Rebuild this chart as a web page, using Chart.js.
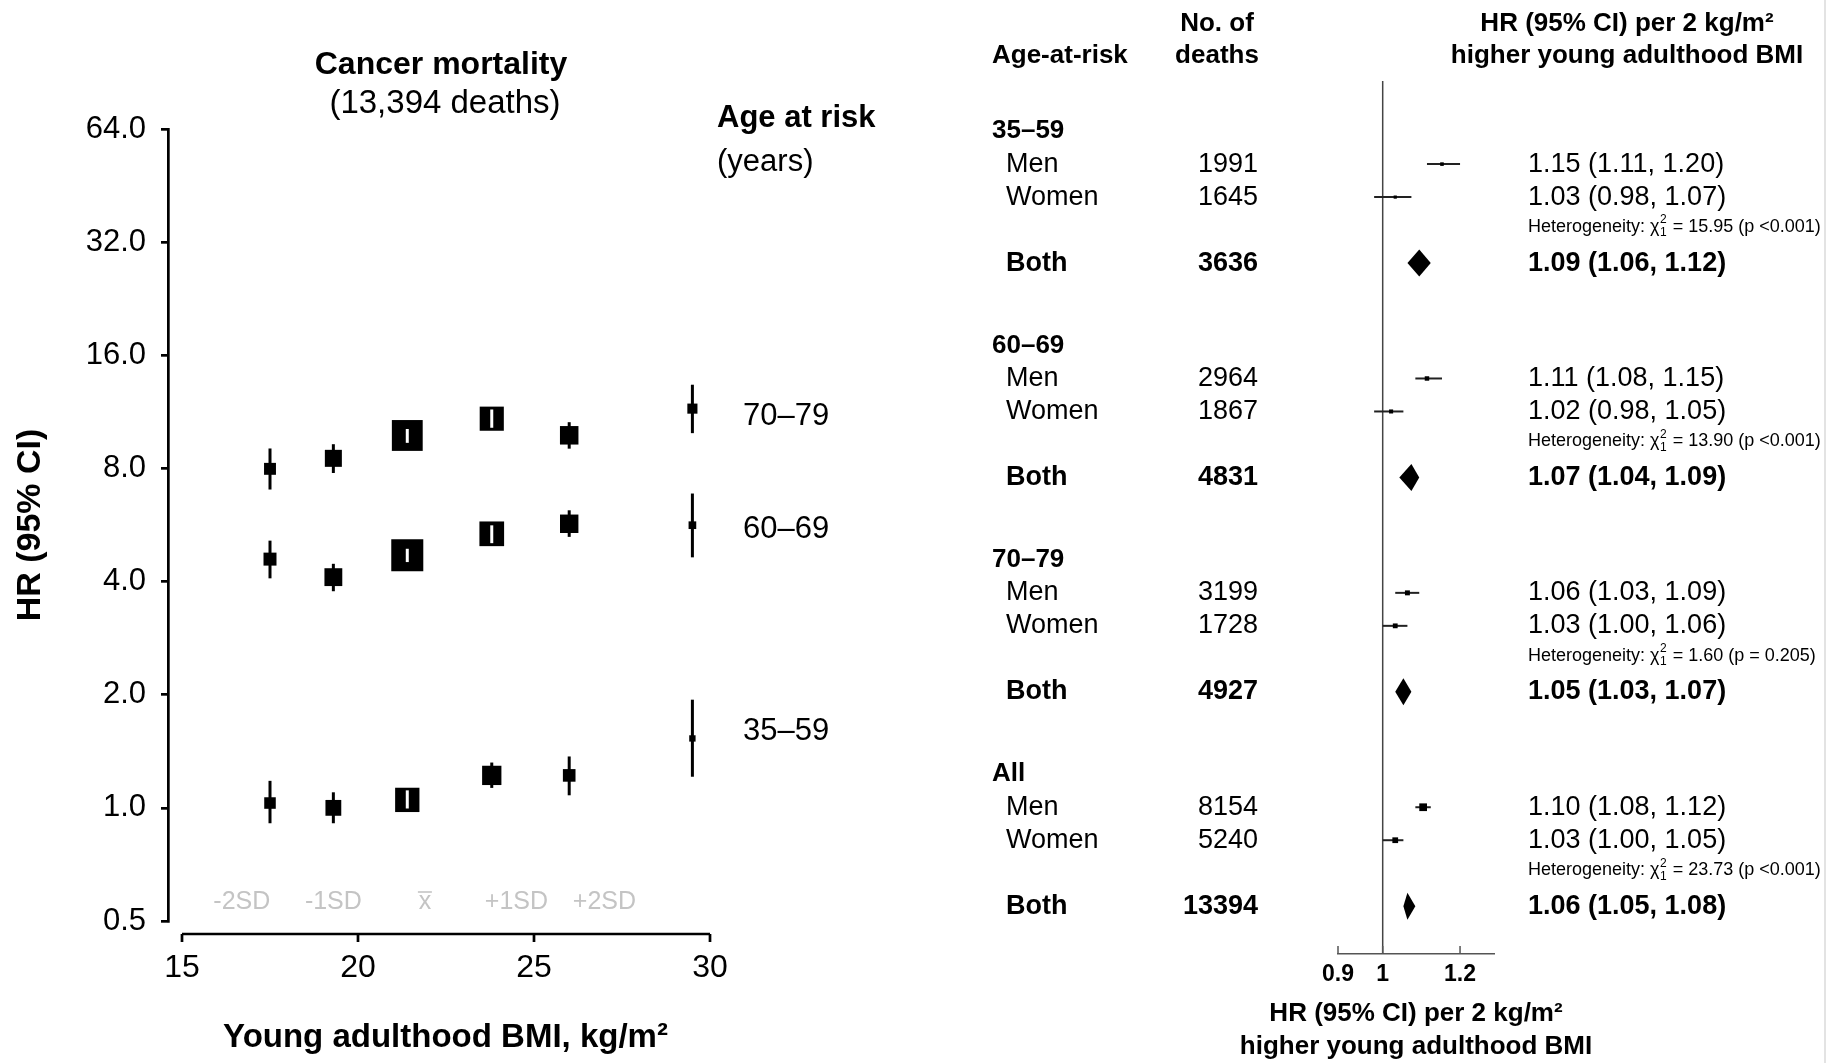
<!DOCTYPE html>
<html lang="en">
<head>
  <meta charset="UTF-8">
  <title>Cancer mortality and young adulthood BMI</title>
  <script src="https://cdn.jsdelivr.net/npm/chart.js"></script>
  <style>
    body { margin: 0; background: #fff; }
    #wrap { position: relative; width: 1844px; height: 1063px; }
    #bmiChart { position: absolute; left: 0; top: 0; }
    #forestChart { position: absolute; left: 960px; top: 0; }
  </style>
</head>
<body>
<div id="wrap">
  <canvas id="bmiChart" width="960" height="1063"></canvas>
  <canvas id="forestChart" width="884" height="1063"></canvas>
</div>
<script>
  const FONT = '"Liberation Sans", Arial, Helvetica, sans-serif';

  // ---- left panel: HR by young adulthood BMI group ----
  const bmiCentres = [17.5, 19.3, 21.4, 23.8, 26.0, 29.5];
  const yTickValues = [0.5, 1, 2, 4, 8, 16, 32, 64];
  const xTickValues = [15, 20, 25, 30];
  const sdLabels = ['-2SD', '-1SD', 'x', '+1SD', '+2SD'];
  const sdAt = [16.7, 19.3, 21.9, 24.5, 27.0];

  const ageLabels = ['35–59', '60–69', '70–79'];
  const hrAge35 = [1.03, 1.00, 1.05, 1.22, 1.22, 1.53];
  const loAge35 = [0.91, 0.91, 0.99, 1.13, 1.08, 1.21];
  const hiAge35 = [1.18, 1.10, 1.12, 1.32, 1.37, 1.94];
  const hrAge60 = [4.59, 4.11, 4.70, 5.36, 5.70, 5.65];
  const loAge60 = [4.08, 3.77, 4.48, 5.03, 5.26, 4.64];
  const hiAge60 = [5.14, 4.46, 4.92, 5.68, 6.19, 6.86];
  const hrAge70 = [7.98, 8.51, 9.79, 10.85, 9.80, 11.54];
  const loAge70 = [7.03, 7.78, 9.30, 10.20, 9.03, 9.93];
  const hiAge70 = [9.04, 9.28, 10.25, 11.55, 10.62, 13.36];
  // where the age-group names sit on the HR axis
  const ageLabelAt = [1.6, 5.5, 11.0];

  // ---- right panel: HR per 2 kg/m2 ----
  const riskGroups = ['35–59', '60–69', '70–79', 'All'];
  const deathsMen = [1991, 2964, 3199, 8154];
  const deathsWomen = [1645, 1867, 1728, 5240];
  const deathsBoth = [3636, 4831, 4927, 13394];
  const hrMen = [1.15, 1.11, 1.06, 1.10];
  const loMen = [1.11, 1.08, 1.03, 1.08];
  const hiMen = [1.20, 1.15, 1.09, 1.12];
  const hrWomen = [1.03, 1.02, 1.03, 1.03];
  const loWomen = [0.98, 0.98, 1.00, 1.00];
  const hiWomen = [1.07, 1.05, 1.06, 1.05];
  const hrBoth = [1.09, 1.07, 1.05, 1.06];
  const loBoth = [1.06, 1.04, 1.03, 1.05];
  const hiBoth = [1.12, 1.09, 1.07, 1.08];
  const hetChi2 = ['15.95', '13.90', '1.60', '23.73'];
  const hetP = ['<0.001', '<0.001', '= 0.205', '<0.001'];
  const forestTicks = [0.9, 1, 1.2];

  Chart.defaults.font.family = FONT;
  Chart.defaults.color = '#000';

  // box side is inversely proportional to the width of the log CI
  const BOX_K = 3.0;
  const FOREST_K = 0.28;
  const boxSide = d => BOX_K / Math.log(d.hi / d.lo);
  const dotSide = d => FOREST_K / Math.log(d.hi / d.lo);

  function label(ctx, s, x, y, size, opts = {}) {
    ctx.font = (opts.bold ? 'bold ' : '') + size + 'px ' + FONT;
    ctx.fillStyle = opts.color || '#000';
    ctx.textAlign = opts.align || 'left';
    ctx.textBaseline = 'middle';
    ctx.fillText(s, x, y);
  }

  function series(hr, lo, hi) {
    return bmiCentres.map((x, i) => ({ x: x, y: hr[i], lo: lo[i], hi: hi[i] }));
  }

  const bmiDecor = {
    id: 'bmiDecor',
    beforeDatasetsDraw(chart) {
      const { ctx, scales: { y } } = chart;
      ctx.save();
      ctx.strokeStyle = '#000';
      ctx.lineWidth = 3;
      chart.data.datasets.forEach((ds, di) => {
        chart.getDatasetMeta(di).data.forEach((pt, i) => {
          const d = ds.data[i];
          ctx.beginPath();
          ctx.moveTo(pt.x, y.getPixelForValue(d.hi));
          ctx.lineTo(pt.x, y.getPixelForValue(d.lo));
          ctx.stroke();
        });
      });
      ctx.restore();
    },
    afterDatasetsDraw(chart) {
      // CIs that fit inside their box are shown in white
      const { ctx, scales: { y } } = chart;
      ctx.save();
      ctx.strokeStyle = '#fff';
      ctx.lineWidth = 3;
      chart.data.datasets.forEach((ds, di) => {
        chart.getDatasetMeta(di).data.forEach((pt, i) => {
          const d = ds.data[i];
          const top = y.getPixelForValue(d.hi);
          const bottom = y.getPixelForValue(d.lo);
          if (bottom - top < boxSide(d) - 2) {
            ctx.beginPath();
            ctx.moveTo(pt.x, top + 1);
            ctx.lineTo(pt.x, bottom - 1);
            ctx.stroke();
          }
        });
      });
      ctx.restore();
    },
    afterDraw(chart) {
      const { ctx, chartArea, scales: { x, y } } = chart;
      ctx.save();
      // detached x axis
      const ya = chartArea.bottom + 13;
      ctx.strokeStyle = '#000';
      ctx.lineWidth = 2.7;
      ctx.beginPath();
      ctx.moveTo(x.getPixelForValue(xTickValues[0]), ya);
      ctx.lineTo(x.getPixelForValue(xTickValues[xTickValues.length - 1]), ya);
      xTickValues.forEach(v => {
        const px = x.getPixelForValue(v);
        ctx.moveTo(px, ya);
        ctx.lineTo(px, ya + 8);
      });
      ctx.stroke();

      // SD markers along the bottom
      const sdY = y.getPixelForValue(0.5) - 19;
      sdLabels.forEach((s, i) => {
        const px = x.getPixelForValue(sdAt[i]);
        label(ctx, s, px, sdY, 25, { align: 'center', color: '#c4c4c4' });
        if (s === 'x') {
          ctx.strokeStyle = '#c4c4c4';
          ctx.lineWidth = 1.6;
          ctx.beginPath();
          ctx.moveTo(px - 7, sdY - 10);
          ctx.lineTo(px + 7, sdY - 10);
          ctx.stroke();
        }
      });

      label(ctx, 'Cancer mortality', 441, 65, 32, { bold: true, align: 'center' });
      label(ctx, '(13,394 deaths)', 445, 104, 33, { align: 'center' });
      label(ctx, 'Age at risk', 717, 118, 31, { bold: true });
      label(ctx, '(years)', 717, 162, 31);
      ageLabels.forEach((s, i) => {
        label(ctx, s, 743, y.getPixelForValue(ageLabelAt[i]), 31);
      });
      ctx.restore();
    }
  };

  new Chart(document.getElementById('bmiChart'), {
    type: 'scatter',
    data: {
      datasets: [
        { label: ageLabels[0], data: series(hrAge35, loAge35, hiAge35) },
        { label: ageLabels[1], data: series(hrAge60, loAge60, hiAge60) },
        { label: ageLabels[2], data: series(hrAge70, loAge70, hiAge70) }
      ].map(ds => Object.assign(ds, {
        pointStyle: 'rect',
        backgroundColor: '#000',
        borderWidth: 0,
        pointRadius: c => c.raw ? boxSide(c.raw) / Math.SQRT2 : 0,
        pointHoverRadius: c => c.raw ? boxSide(c.raw) / Math.SQRT2 : 0
      }))
    },
    options: {
      responsive: false,
      animation: false,
      layout: { padding: { left: 0, top: 129, right: 237, bottom: 0 } },
      plugins: { legend: { display: false }, tooltip: { enabled: false } },
      scales: {
        x: {
          type: 'linear',
          min: 15 - 14 / 35.2,
          max: 30 + 13 / 35.2,
          afterBuildTicks: s => { s.ticks = xTickValues.map(v => ({ value: v })); },
          afterFit: s => { s.height = 142; },
          ticks: { font: { size: 32 }, color: '#000', padding: 28 },
          grid: { display: false, drawTicks: false },
          border: { display: false },
          title: {
            display: true,
            text: 'Young adulthood BMI, kg/m²',
            font: { size: 33, weight: 'bold' },
            color: '#000',
            padding: { top: 0, bottom: 5 }
          }
        },
        y: {
          type: 'logarithmic',
          min: 0.5,
          max: 64,
          afterBuildTicks: s => { s.ticks = yTickValues.map(v => ({ value: v })); },
          afterFit: s => { s.width = 168; },
          ticks: { callback: v => Number(v).toFixed(1), font: { size: 31 }, color: '#000', padding: 15 },
          grid: { display: true, drawOnChartArea: false, drawTicks: true, tickLength: 7, color: '#000', lineWidth: 2.7 },
          border: { display: true, color: '#000', width: 2.7 },
          title: {
            display: true,
            text: 'HR (95% CI)',
            font: { size: 34, weight: 'bold' },
            color: '#000',
            padding: { top: 10, bottom: 0 }
          }
        }
      }
    },
    plugins: [bmiDecor]
  });

  // ---- forest plot ----
  const GROUP_STEP = 6.5;
  const rowOf = (g, k) => g * GROUP_STEP + k; // k: 0 name, 1 men, 2 women, 3 heterogeneity, 4 both
  const fmtCI = (h, l, u) => h.toFixed(2) + ' (' + l.toFixed(2) + ', ' + u.toFixed(2) + ')';

  function rows(hr, lo, hi, k) {
    return riskGroups.map((g, i) => ({ x: hr[i], y: rowOf(i, k), lo: lo[i], hi: hi[i] }));
  }

  function drawHet(ctx, x, y, chi, p) {
    ctx.fillStyle = '#000';
    ctx.textAlign = 'left';
    ctx.textBaseline = 'middle';
    ctx.font = '18px ' + FONT;
    const head = 'Heterogeneity: χ';
    ctx.fillText(head, x, y);
    x += ctx.measureText(head).width + 0.5;
    ctx.font = '12px ' + FONT;
    ctx.fillText('2', x, y - 7);
    ctx.fillText('1', x, y + 6);
    x += ctx.measureText('2').width + 1;
    ctx.font = '18px ' + FONT;
    ctx.fillText(' = ' + chi + ' (p ' + p + ')', x, y);
  }

  const forestDecor = {
    id: 'forestDecor',
    beforeDatasetsDraw(chart) {
      const { ctx, chartArea, scales: { x } } = chart;
      ctx.save();
      const x1 = x.getPixelForValue(1);
      ctx.strokeStyle = '#444';
      ctx.lineWidth = 1.5;
      ctx.beginPath();
      ctx.moveTo(x1, chartArea.top);
      ctx.lineTo(x1, chartArea.bottom);
      ctx.stroke();

      ctx.strokeStyle = '#222';
      ctx.lineWidth = 2;
      [0, 1].forEach(di => {
        const ds = chart.data.datasets[di];
        chart.getDatasetMeta(di).data.forEach((pt, i) => {
          const d = ds.data[i];
          ctx.beginPath();
          ctx.moveTo(x.getPixelForValue(d.lo), pt.y);
          ctx.lineTo(x.getPixelForValue(d.hi), pt.y);
          ctx.stroke();
        });
      });
      ctx.restore();
    },
    afterDatasetsDraw(chart) {
      const { ctx, scales: { x } } = chart;
      ctx.save();
      ctx.fillStyle = '#000';
      const ds = chart.data.datasets[2];
      chart.getDatasetMeta(2).data.forEach((pt, i) => {
        const d = ds.data[i];
        ctx.beginPath();
        ctx.moveTo(x.getPixelForValue(d.lo), pt.y);
        ctx.lineTo(pt.x, pt.y - 13.5);
        ctx.lineTo(x.getPixelForValue(d.hi), pt.y);
        ctx.lineTo(pt.x, pt.y + 13.5);
        ctx.closePath();
        ctx.fill();
      });
      ctx.restore();
    },
    afterDraw(chart) {
      const { ctx, chartArea, scales: { x, y } } = chart;
      ctx.save();
      // inward tick marks on the HR axis
      ctx.strokeStyle = '#555';
      ctx.lineWidth = 1.5;
      ctx.beginPath();
      forestTicks.forEach(v => {
        const px = x.getPixelForValue(v);
        ctx.moveTo(px, chartArea.bottom);
        ctx.lineTo(px, chartArea.bottom - 8);
      });
      ctx.stroke();

      // axis title, centred under the HR axis
      const axisMid = (chartArea.left + chartArea.right) / 2;
      label(ctx, 'HR (95% CI) per 2 kg/m²', axisMid, 1014, 26, { bold: true, align: 'center' });
      label(ctx, 'higher young adulthood BMI', axisMid, 1047, 26, { bold: true, align: 'center' });

      // column headers
      label(ctx, 'Age-at-risk', 32, 56, 26, { bold: true });
      label(ctx, 'No. of', 257, 24, 26, { bold: true, align: 'center' });
      label(ctx, 'deaths', 257, 56, 26, { bold: true, align: 'center' });
      label(ctx, 'HR (95% CI) per 2 kg/m²', 667, 24, 26, { bold: true, align: 'center' });
      label(ctx, 'higher young adulthood BMI', 667, 56, 26, { bold: true, align: 'center' });

      riskGroups.forEach((g, i) => {
        const yName = y.getPixelForValue(rowOf(i, 0));
        const yMen = y.getPixelForValue(rowOf(i, 1));
        const yWomen = y.getPixelForValue(rowOf(i, 2));
        const yHet = y.getPixelForValue(rowOf(i, 3));
        const yBoth = y.getPixelForValue(rowOf(i, 4));
        label(ctx, g, 32, yName, 26, { bold: true });

        label(ctx, 'Men', 46, yMen, 27);
        label(ctx, String(deathsMen[i]), 298, yMen, 27, { align: 'right' });
        label(ctx, fmtCI(hrMen[i], loMen[i], hiMen[i]), 568, yMen, 27);

        label(ctx, 'Women', 46, yWomen, 27);
        label(ctx, String(deathsWomen[i]), 298, yWomen, 27, { align: 'right' });
        label(ctx, fmtCI(hrWomen[i], loWomen[i], hiWomen[i]), 568, yWomen, 27);

        drawHet(ctx, 568, yHet - 3, hetChi2[i], hetP[i]);

        label(ctx, 'Both', 46, yBoth, 27, { bold: true });
        label(ctx, String(deathsBoth[i]), 298, yBoth, 27, { bold: true, align: 'right' });
        label(ctx, fmtCI(hrBoth[i], loBoth[i], hiBoth[i]), 568, yBoth, 27, { bold: true });
      });

      // faint frame edge on the right
      ctx.strokeStyle = '#dadada';
      ctx.lineWidth = 1.5;
      ctx.beginPath();
      ctx.moveTo(865, 0);
      ctx.lineTo(865, chart.height);
      ctx.stroke();
      ctx.restore();
    }
  };

  new Chart(document.getElementById('forestChart'), {
    type: 'scatter',
    data: {
      datasets: [
        {
          label: 'Men',
          data: rows(hrMen, loMen, hiMen, 1),
          pointStyle: 'rect',
          backgroundColor: '#000',
          borderWidth: 0,
          pointRadius: c => c.raw ? dotSide(c.raw) / Math.SQRT2 : 0
        },
        {
          label: 'Women',
          data: rows(hrWomen, loWomen, hiWomen, 2),
          pointStyle: 'rect',
          backgroundColor: '#000',
          borderWidth: 0,
          pointRadius: c => c.raw ? dotSide(c.raw) / Math.SQRT2 : 0
        },
        {
          label: 'Both',
          data: rows(hrBoth, loBoth, hiBoth, 4),
          pointRadius: 0,
          pointHoverRadius: 0
        }
      ]
    },
    options: {
      responsive: false,
      animation: false,
      layout: { padding: { left: 378, top: 81, right: 350, bottom: 0 } },
      plugins: { legend: { display: false }, tooltip: { enabled: false } },
      scales: {
        x: {
          type: 'logarithmic',
          min: 0.9,
          max: 1.3,
          afterBuildTicks: s => { s.ticks = forestTicks.map(v => ({ value: v })); },
          afterFit: s => { s.height = 109; },
          ticks: { callback: v => String(v), font: { size: 23, weight: 'bold' }, color: '#000', padding: 7 },
          grid: { display: false, drawTicks: false },
          border: { display: true, color: '#555', width: 1.5 }
        },
        y: {
          type: 'linear',
          reverse: true,
          min: -1.52,
          max: 24.95,
          display: false
        }
      }
    },
    plugins: [forestDecor]
  });
</script>
</body>
</html>
